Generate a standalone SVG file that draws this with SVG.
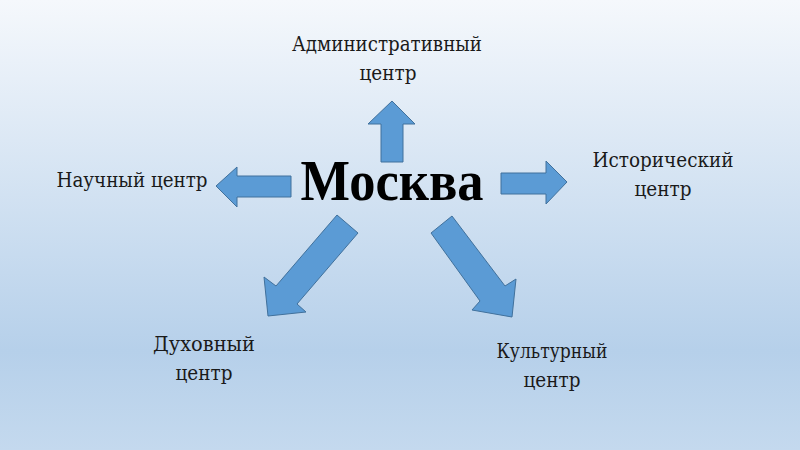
<svg xmlns="http://www.w3.org/2000/svg" width="800" height="450" viewBox="0 0 800 450">
<defs>
<linearGradient id="bg" x1="0" y1="0" x2="0" y2="1">
<stop offset="0" stop-color="#f5f8fc"/>
<stop offset="0.78" stop-color="#b6d0ea"/>
<stop offset="1" stop-color="#c4d9ee"/>
</linearGradient>
<style>
.arrow{fill:#5b9bd5;stroke:#41719c;stroke-width:1;stroke-linejoin:miter}
.lbl{font-family:"DejaVu Serif Condensed","DejaVu Serif",serif;font-size:21px;fill:#1a1a1a;text-anchor:middle}
.main{font-family:"Liberation Serif",serif;font-size:58px;font-weight:bold;fill:#000;text-anchor:middle}
</style>
</defs>
<rect x="0" y="0" width="800" height="450" fill="url(#bg)"/>
<g id="center">
<text class="main" x="392" y="200" textLength="183" lengthAdjust="spacingAndGlyphs">Москва</text>
</g>
<g id="connectors">
<polygon class="arrow" points="392,101 415,124 403,124 403,162 381,162 381,124 368,124"/>
<polygon class="arrow" points="216,186 237,167 237,176 291,176 291,197 237,197 237,207"/>
<polygon class="arrow" points="567,182 546,161 546,173 501,173 501,194 546,194 546,204"/>
<polygon class="arrow" points="337,215 358,233 297,304 306,312 268,316 264,277 276,286"/>
<polygon class="arrow" points="452,216 505,286 516,279 512,317 472,310 480,301 431,233"/>
</g>
<g id="admin">
<text class="lbl" x="387" y="51" textLength="190" lengthAdjust="spacingAndGlyphs">Административный</text>
<text class="lbl" x="388" y="80" textLength="57" lengthAdjust="spacingAndGlyphs">центр</text>
</g>
<g id="science">
<text class="lbl" x="132" y="187" textLength="151" lengthAdjust="spacingAndGlyphs">Научный центр</text>
</g>
<g id="history">
<text class="lbl" x="663" y="167" textLength="141" lengthAdjust="spacingAndGlyphs">Исторический</text>
<text class="lbl" x="663" y="196" textLength="57" lengthAdjust="spacingAndGlyphs">центр</text>
</g>
<g id="spiritual">
<text class="lbl" x="204" y="351" textLength="102" lengthAdjust="spacingAndGlyphs">Духовный</text>
<text class="lbl" x="204" y="380" textLength="57" lengthAdjust="spacingAndGlyphs">центр</text>
</g>
<g id="culture">
<text class="lbl" x="552" y="358" textLength="111" lengthAdjust="spacingAndGlyphs">Культурный</text>
<text class="lbl" x="552" y="387" textLength="57" lengthAdjust="spacingAndGlyphs">центр</text>
</g>
</svg>
